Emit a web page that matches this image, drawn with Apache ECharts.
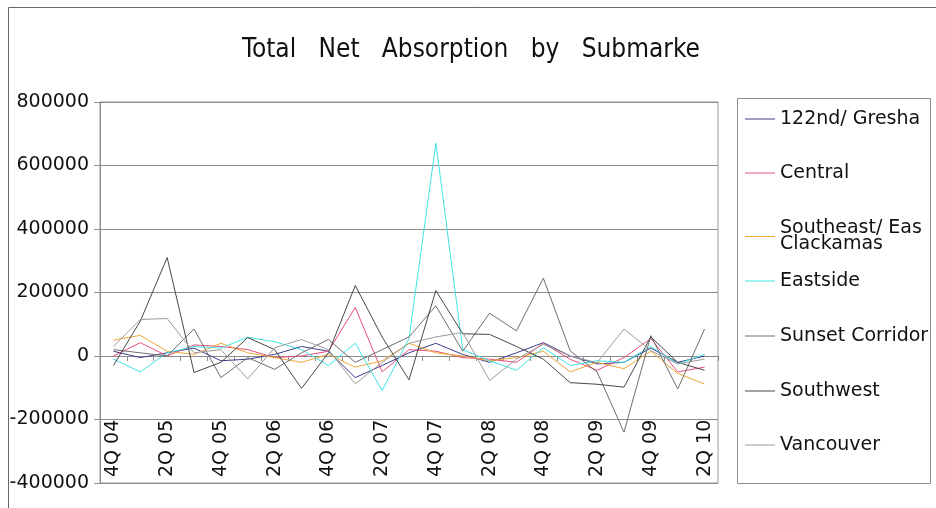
<!DOCTYPE html>
<html>
<head>
<meta charset="utf-8">
<script src="https://cdn.jsdelivr.net/npm/echarts@6/dist/echarts.min.js"></script>
<style>
  html, body { margin: 0; padding: 0; background: #fff; }
  #chart { width: 936px; height: 508px; }
</style>
</head>
<body>
<div id="chart"></div>
<script>
// Quarterly periods on the category axis
const quarters = ['4Q 04','1Q 05','2Q 05','3Q 05','4Q 05','1Q 06','2Q 06','3Q 06','4Q 06',
  '1Q 07','2Q 07','3Q 07','4Q 07','1Q 08','2Q 08','3Q 08','4Q 08','1Q 09','2Q 09','3Q 09',
  '4Q 09','1Q 10','2Q 10'];

// Net absorption (sq ft) per submarket and quarter
const gresham   = [15000, -5000, 10000, 25000, -15000, -10000, 5000, 30000, 15000, -68000, -30000, 10000, 40000, 5000, -20000, 10000, 42000, 0, -25000, -20000, 25000, -20000, 0];
const central   = [0, 42000, 0, 35000, 30000, 20000, -5000, 0, 15000, 153000, -50000, 20000, 15000, -5000, -10000, -20000, 40000, -10000, -45000, -5000, 55000, -50000, -35000];
const southeast = [50000, 65000, 15000, 5000, 40000, 10000, -5000, -20000, 5000, -35000, -15000, 40000, 10000, 0, -15000, -5000, 15000, -50000, -20000, -40000, 15000, -55000, -88000];
const eastside  = [-10000, -50000, 10000, 30000, 25000, 59000, 45000, 20000, -30000, 40000, -109000, 55000, 670000, 20000, -15000, -45000, 26000, -30000, -15000, -20000, 30000, -25000, 5000];
const sunset    = [20000, 10000, 0, 85000, -68000, -5000, -42000, 10000, 52000, -20000, 20000, 60000, 158000, 15000, 135000, 79000, 245000, 16000, -50000, -240000, 64000, -104000, 85000];
const southwest = [-30000, 110000, 310000, -52000, -20000, 58000, 20000, -102000, 10000, 222000, 60000, -75000, 206000, 70000, 68000, 30000, -10000, -84000, -89000, -98000, 60000, -20000, -45000];
const vancouver = [30000, 115000, 118000, 10000, 20000, -72000, 26000, 52000, 20000, -88000, -20000, 40000, 60000, 74000, -77000, -10000, 37000, 0, -21000, 85000, 17000, -25000, -10000];

// Value axis ticks
const yMin = -400000, yMax = 800000, yStep = 200000;

const submarkets = [
  { name: '122nd/ Gresham', data: gresham, color: '#3c3c8c' },
  { name: 'Central', data: central, color: '#e8507a' },
  { name: 'Southeast/ East Clackamas', data: southeast, color: '#f0a838' },
  { name: 'Eastside', data: eastside, color: '#40e4e4' },
  { name: 'Sunset Corridor', data: sunset, color: '#6e6e6e' },
  { name: 'Southwest', data: southwest, color: '#484848' },
  { name: 'Vancouver', data: vancouver, color: '#9c9c9c' }
];

const legendCenters = [117, 171, 225, 279, 334, 389, 443];
const font = "'DejaVu Sans', 'Liberation Sans', sans-serif";

// One legend block per submarket, stacked down the key box
const legends = submarkets.map((s, i) => {
  const two = s.name.indexOf('Clackamas') >= 0;
  return {
    data: [s.name],
    left: 745,
    top: legendCenters[i] - (two ? 6 : 8),
    padding: 0,
    orient: 'vertical',
    icon: 'rect',
    itemWidth: 30,
    itemHeight: 1,
    selectedMode: false,
    formatter: two ? 'Southeast/ East\nClackamas' : '{name}',
    textStyle: {
      fontFamily: font, fontSize: 19, color: '#111',
      lineHeight: two ? 16 : 20,
      width: 150, overflow: 'truncate', ellipsis: ''
    }
  };
});

const chart = echarts.init(document.getElementById('chart'));
chart.setOption({
  animation: false,
  backgroundColor: '#fff',
  title: {
    text: 'Total   Net   Absorption   by   Submarke',
    left: 466, top: 32, textAlign: 'center',
    textStyle: { fontFamily: "'DejaVu Sans Condensed', 'Liberation Sans Narrow', 'DejaVu Sans', sans-serif", fontSize: 26, fontWeight: 'normal', color: '#111' }
  },
  graphic: [
    { type: 'rect', shape: { x: 8.5, y: 7.5, width: 940, height: 510 }, style: { fill: 'none', stroke: '#666', lineWidth: 1 }, silent: true },
    { type: 'rect', shape: { x: 737.5, y: 98.5, width: 193, height: 385 }, style: { fill: 'none', stroke: '#8c8c8c', lineWidth: 1 }, silent: true, z: -1 }
  ],
  legend: legends,
  grid: { left: 100, right: 218, top: 102, bottom: 25, show: true, borderColor: '#9a9a9a', borderWidth: 1 },
  xAxis: [
    {
      type: 'category', data: quarters, boundaryGap: true,
      axisLine: { onZero: true, lineStyle: { color: '#8c8c8c' } },
      axisTick: { show: true, interval: 0, length: 5, lineStyle: { color: '#8c8c8c' } },
      axisLabel: { show: false }
    },
    {
      type: 'category', data: quarters, boundaryGap: true, position: 'bottom',
      axisLine: { show: false, onZero: false }, axisTick: { show: false },
      axisLabel: {
        inside: true, rotate: 90, interval: 1, margin: 6,
        fontFamily: font, fontSize: 19, color: '#111'
      }
    }
  ],
  yAxis: {
    type: 'value', min: yMin, max: yMax, interval: yStep,
    axisLine: { show: true, lineStyle: { color: '#8c8c8c' } },
    axisTick: { show: true, length: 6, lineStyle: { color: '#8c8c8c' } },
    axisLabel: { margin: 11, fontFamily: font, fontSize: 19, color: '#111', formatter: v => String(v) },
    splitLine: { lineStyle: { color: '#8c8c8c', width: 1 } }
  },
  series: submarkets.map(s => ({
    name: s.name, type: 'line', data: s.data, xAxisIndex: 0,
    symbol: 'none', showSymbol: false,
    lineStyle: { width: 1, color: s.color },
    itemStyle: { color: s.color }
  }))
});
</script>
</body>
</html>
